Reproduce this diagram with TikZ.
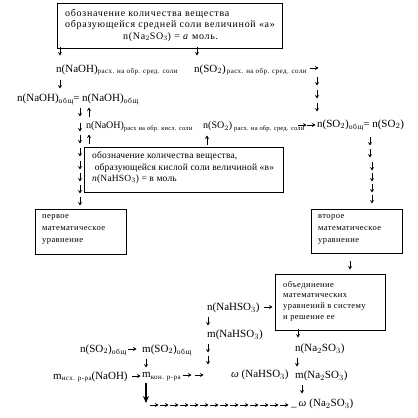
\documentclass[tikz,border=0pt]{standalone}
\usepackage{fontspec}
\setmainfont{Liberation Serif}
\usetikzlibrary{arrows.meta,positioning}
\newcommand\lidx[1]{\raisebox{-1.8pt}{\fontsize{7}{7}\selectfont\addfontfeature{LetterSpace=6}#1}}
\newcommand\kidx[1]{\raisebox{-1.6pt}{\fontsize{6.5}{7}\selectfont\addfontfeature{LetterSpace=3}#1}}
\newcommand\sidx[1]{\raisebox{-2pt}{\fontsize{7.5}{8}\selectfont\addfontfeature{LetterSpace=8}#1}}

\begin{document}
\begin{tikzpicture}[x=1pt,y=-1pt,
  txt/.style={inner sep=0pt,anchor=west,font=\fontsize{11}{12}\selectfont},
  txtb/.style={inner sep=0pt,anchor=west,font=\fontsize{10}{12}\selectfont},
  note/.style={inner sep=0pt,anchor=west,font=\fontsize{10}{11}\selectfont\addfontfeature{LetterSpace=7}},
  notem/.style={inner sep=0pt,anchor=west,font=\fontsize{9.5}{11}\selectfont\addfontfeature{LetterSpace=2}},
  small/.style={inner sep=0pt,anchor=west,font=\fontsize{8.5}{10}\selectfont\addfontfeature{LetterSpace=5}},
  boxed/.style={draw,line width=0.9pt},
  tip/.style={line width=0.6pt,-{Stealth[length=3.4pt,width=4pt]}},
  bigtip/.style={line width=1.3pt,-{Stealth[length=7pt,width=6pt]}}]
  \useasboundingbox (0,0) rectangle (418,418);

  % top box
  \draw[boxed] (57,3) rectangle (282,48);
  \node[note] (srA) at (65,14) {обозначение количества вещества};
  \node[note] (srB) at (65,25) {образующейся средней соли величиной «а»};
  \node[note] (srC) at (123,37) {n(Na$_2$SO$_3$) = \textit{а} моль.};

  \foreach \x/\y in {60/51,197/51,60/84,317/81,317/94,317/107,
    80/112,80/127,80/139,80/152,80/165,80/177,80/189,80/201,
    370/141,370/153,372/166,372/177,372/188,372/199,350/265,
    208/321,208/348,208/360,298/333,297/362,302/389,146/363}
    \draw[tip] (\x,\y) ++(0,-4.5) -- ++(0,9);
  \foreach \x/\y in {89/112,89/139,207/140}
    \draw[tip] (\x,\y) ++(0,4.5) -- ++(0,-9);
  \foreach \x/\y in {310/68,298/125,307/125,128/349,132/376,
    183/375,195/375,264/307}
    \draw[tip] (\x,\y) -- ++(8.5,0);

  \node[txt] (naohsr) at (56,70) {n(NaOH)\lidx{расх. на обр. сред. соли}};
  \node[txt] (sosr) at (194,70) {n(SO$_2$)\hspace{1pt}\lidx{расх. на обр. сред. соли}};
  \node[txt] (naohob) at (17,99) {n(NaOH)\sidx{общ}= n(NaOH)\sidx{общ}};
  \node[txtb] (naohks) at (86,127) {n(NaOH)\kidx{расх на обр. кисл. соли}};
  \node[txtb] (soks) at (203,127) {n(SO$_2$)\hspace{2pt}\kidx{расх. на обр. сред. соли}};
  \node[txt] (soob) at (317,125) {n(SO$_2$)\sidx{общ}= n(SO$_2$)};

  % middle box
  \draw[boxed] (84,147) rectangle (283,192);
  \node[notem] (ksA) at (92,156) {обозначение количества вещества,};
  \node[notem] (ksB) at (92,168) {\ образующейся кислой соли величиной «в»};
  \node[notem] (ksC) at (92,179) {\textit{n}(NaHSO$_3$) = в моль};

  % equations
  \draw[boxed] (35,209) rectangle (126,254);
  \node[small] (eqA) at (42,217) {первое};
  \node[small] at (42,229) {математическое};
  \node[small] at (42,241) {уравнение};
  \draw[boxed] (311,209) rectangle (402,253);
  \node[small] (eqB) at (318,217) {второе};
  \node[small] at (318,229) {математическое};
  \node[small] at (318,241) {уравнение};
  \draw[boxed] (275,274) rectangle (385,330);
  \node[small] (sys) at (283,285) {объединение};
  \node[small] at (283,296) {математических};
  \node[small] at (283,307) {уравнений в систему};
  \node[small] at (283,318) {и решение ее};

  \node[txt] (nhs) at (207,308) {n(NaHSO$_3$)};
  \node[txt] (mhs) at (207,335) {m(NaHSO$_3$)};
  \node[txt] (whs) at (231,375) {\textit{ω} (NaHSO$_3$)};
  \node[txt] (ns) at (295,349) {n(Na$_2$SO$_3$)};
  \node[txt] (ms) at (295,376) {m(Na$_2$SO$_3$)};
  \node[txt] (ws) at (291,404) {\_\hspace{2pt}\textit{ω}\hspace{3pt}(Na$_2$SO$_3$)};

  \node[txt] (soo) at (80,350) {n(SO$_2$)\sidx{общ}};
  \node[txt] (mso) at (142,350) {m(SO$_2$)\sidx{общ}};
  \node[txt] (mish) at (53,377) {m\lidx{исх. р-ра}(NaOH)};
  \node[txt] (mkon) at (142,377) {m\lidx{кон. р-ра}};
  \coordinate (mkonend) at (146,403);
  \draw[bigtip] (146,383) -- (mkonend);
  \foreach \i in {0,...,13}
    \draw[tip] (150+10*\i,405) -- ++(8.5,0);
\end{tikzpicture}
\end{document}
